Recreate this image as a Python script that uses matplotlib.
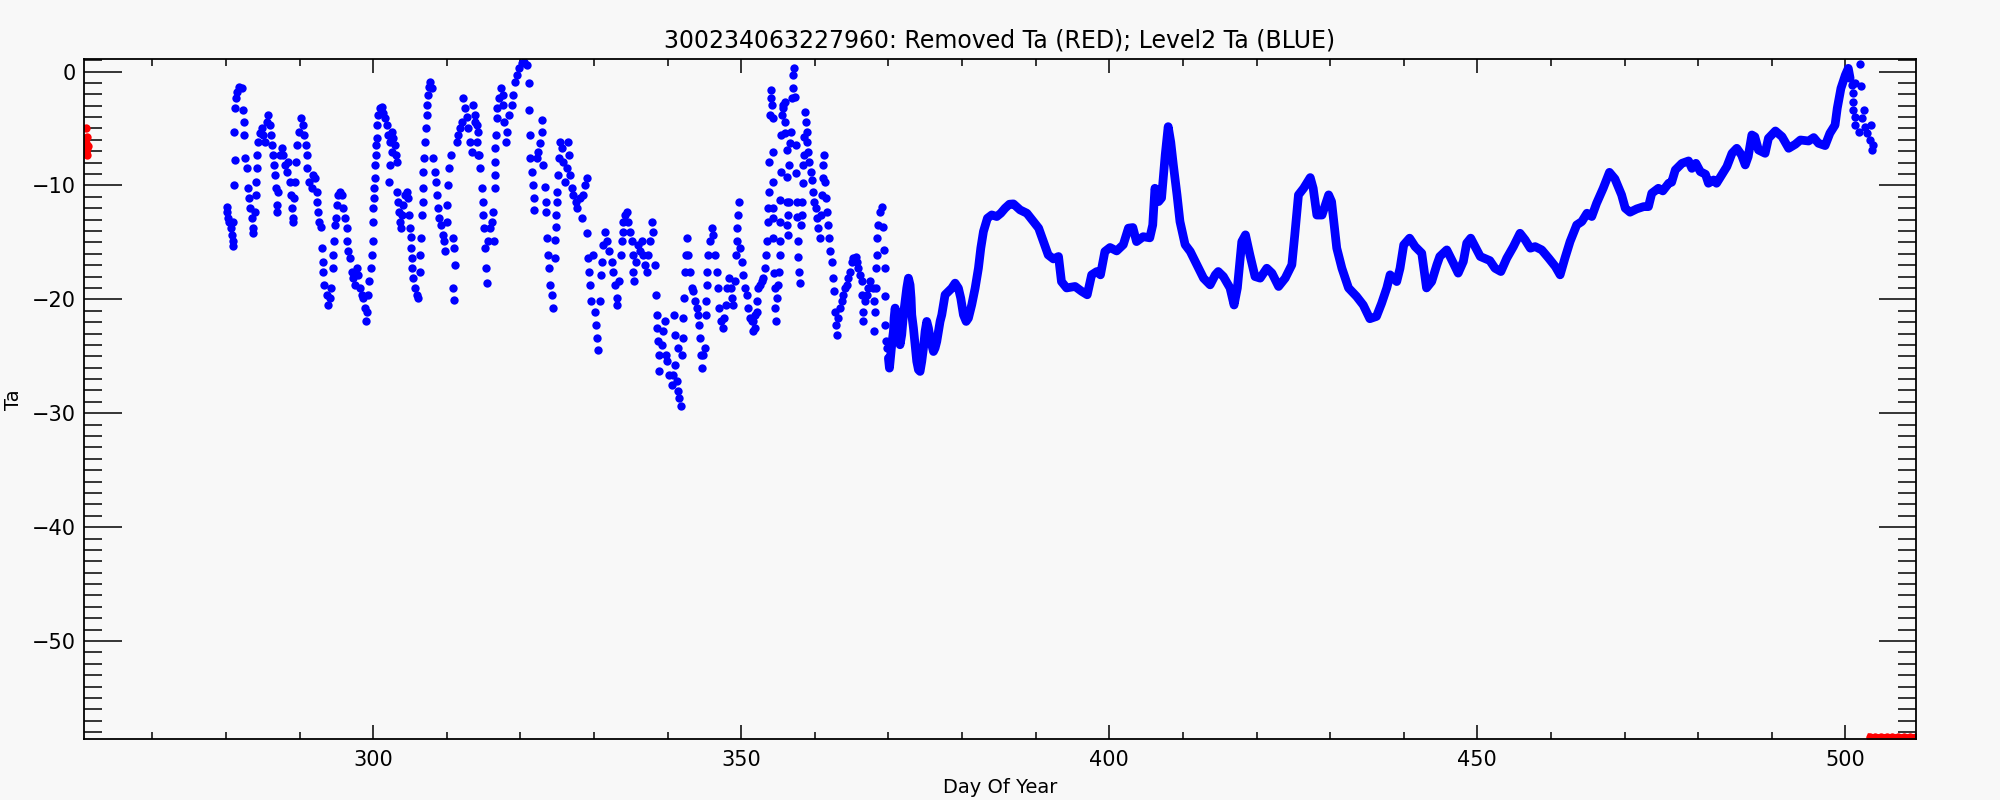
import numpy as np
import matplotlib
matplotlib.use("Agg")
from matplotlib import pyplot as plt
from matplotlib.ticker import MultipleLocator

# buoy id / labels
buoy_id = "300234063227960"
title_txt = buoy_id + ": Removed Ta (RED); Level2 Ta (BLUE)"
xlab = "Day Of Year"
ylab = "Ta"

# REMOVED Ta (red)
red_start = [(261.0, -4.93), (261.1, -5.72), (261.0, -6.3), (261.1, -6.74),
             (261.0, -7.04), (261.1, -7.32), (261.2, -6.5), (261.0, -7.1)]
red_end = [(503.4, -58.45), (503.7, -58.5), (504.0, -58.45), (504.4, -58.5),
           (504.8, -58.45), (505.2, -58.5), (505.6, -58.45), (506.0, -58.5),
           (506.4, -58.45), (506.8, -58.5), (507.2, -58.45), (507.6, -58.5),
           (508.0, -58.45), (508.4, -58.5), (508.8, -58.45), (509.2, -58.5),
           (509.6, -58.45)]

# LEVEL2 Ta (blue), days 280-314, noisy part
blue_a = [(280.08, -11.85), (280.17, -12.29), (280.31, -12.88), (280.45, -13.17), (280.63, -13.75),
          (280.76, -14.34), (280.9, -14.92), (280.9, -15.36), (280.99, -13.17), (281.13, -9.95),
          (281.22, -7.76), (281.13, -5.28), (281.22, -3.23), (281.35, -2.35), (281.53, -1.77),
          (281.8, -1.33), (282.12, -1.47), (282.35, -3.37), (282.44, -4.4), (282.44, -5.57),
          (282.58, -7.61), (282.8, -8.49), (283.03, -10.25), (283.16, -11.12), (283.26, -12.0),
          (283.48, -12.88), (283.62, -13.75), (283.71, -14.19), (283.93, -12.29), (284.07, -10.83),
          (284.07, -9.66), (284.16, -8.49), (284.25, -7.32), (284.39, -6.15), (284.61, -5.42),
          (284.84, -4.98), (285.07, -5.57), (285.29, -6.15), (285.52, -4.4), (285.75, -3.81),
          (285.97, -4.69), (286.06, -5.57), (286.2, -6.45), (286.43, -7.32), (286.52, -8.2),
          (286.65, -9.08), (286.79, -10.25), (286.88, -11.71), (286.97, -12.29), (287.11, -10.54),
          (287.33, -7.32), (287.56, -6.74), (287.79, -7.32), (288.01, -8.2), (288.24, -8.78),
          (288.46, -7.91), (288.69, -9.66), (288.78, -10.83), (288.92, -12.0), (289.05, -12.88),
          (289.14, -13.17), (289.28, -11.12), (289.37, -9.66), (289.51, -7.91), (289.69, -6.45),
          (289.96, -5.28), (290.14, -4.11), (290.41, -4.69), (290.59, -5.57), (290.87, -6.45),
          (290.96, -7.32), (291.05, -8.49), (291.32, -9.66), (291.64, -10.25), (291.86, -9.08),
          (292.09, -9.37), (292.32, -10.54), (292.41, -11.42), (292.54, -12.29), (292.68, -13.17),
          (292.86, -13.61), (293.0, -15.51), (293.13, -16.68), (293.22, -17.56), (293.31, -18.73),
          (293.67, -19.6), (293.9, -20.48), (294.13, -19.9), (294.22, -19.02), (294.49, -17.26),
          (294.58, -16.09), (294.67, -14.92), (294.81, -13.46), (294.94, -12.88), (295.03, -11.71),
          (295.26, -10.83), (295.49, -10.54), (295.71, -10.83), (295.94, -12.0), (296.17, -12.88),
          (296.39, -13.75), (296.48, -14.92), (296.62, -15.8), (296.85, -16.39), (297.07, -17.56),
          (297.3, -18.14), (297.52, -18.73), (297.75, -17.26), (297.98, -17.85), (298.2, -19.02),
          (298.43, -19.6), (298.66, -19.9), (298.88, -20.77), (298.97, -21.94), (299.11, -21.07),
          (299.34, -19.6), (299.47, -18.43), (299.65, -17.26), (299.79, -16.09), (299.93, -14.92),
          (300.02, -13.17), (300.02, -12.0), (300.11, -11.12), (300.15, -10.25), (300.24, -9.37),
          (300.29, -8.2), (300.38, -7.32), (300.38, -6.45), (300.47, -5.86), (300.56, -4.69),
          (300.7, -3.81), (300.92, -3.23), (301.15, -3.08), (301.38, -3.67), (301.6, -4.11),
          (301.83, -4.69), (302.05, -5.57), (302.28, -6.15), (302.51, -5.28), (302.73, -5.86),
          (302.96, -6.45), (303.1, -7.32), (303.19, -7.91), (302.28, -8.2), (302.19, -9.66),
          (302.51, -7.03), (303.28, -10.54), (303.41, -11.42), (303.55, -12.29), (303.64, -13.17),
          (303.73, -13.75), (303.87, -12.59), (304.09, -11.71), (304.32, -10.83), (304.55, -10.54),
          (304.77, -11.12), (304.91, -12.59), (305.0, -13.75), (305.09, -14.49), (305.09, -15.51),
          (305.23, -16.39), (305.32, -17.26), (305.45, -18.14), (305.68, -19.02), (305.91, -19.6),
          (306.13, -19.9), (306.36, -17.56), (306.36, -16.09), (306.45, -14.63), (306.58, -12.59),
          (306.72, -11.42), (306.81, -10.25), (306.72, -8.78), (306.9, -7.61), (307.04, -6.15),
          (307.17, -4.98), (307.26, -3.81), (307.35, -2.94), (307.45, -2.06), (307.54, -1.33),
          (307.72, -0.89), (307.94, -1.47), (308.17, -7.56), (308.4, -8.78), (308.53, -9.66),
          (308.71, -10.83), (308.85, -12.0), (308.99, -12.88), (309.17, -13.46), (309.44, -14.34),
          (309.62, -14.92), (309.76, -15.8), (309.98, -13.17), (310.07, -11.71), (310.21, -9.95),
          (310.34, -8.49), (310.53, -7.32), (310.8, -14.63), (310.98, -15.51), (311.11, -16.97),
          (310.89, -19.02), (310.98, -20.04), (311.34, -6.15), (311.57, -5.57), (311.79, -4.98),
          (312.02, -4.4), (312.25, -2.35), (312.47, -3.23), (312.7, -3.96), (312.93, -4.98),
          (313.15, -6.15), (313.38, -7.03), (313.61, -2.94), (313.83, -3.81), (314.06, -4.69),
          (314.28, -5.28), (314.42, -7.32)]

# days 313-352
blue_b = [(313.83, -4.4), (314.06, -6.15), (314.28, -7.32), (314.51, -8.49), (314.74, -10.25),
          (314.87, -11.42), (314.96, -12.59), (315.05, -13.75), (315.19, -15.51), (315.32, -17.26),
          (315.42, -18.58), (315.64, -14.92), (315.87, -13.75), (316.09, -13.17), (316.32, -12.29),
          (316.41, -14.92), (316.55, -10.25), (316.55, -9.08), (316.55, -7.91), (316.55, -6.74),
          (316.68, -5.57), (316.77, -4.11), (316.86, -3.23), (317.14, -2.35), (317.32, -1.47),
          (317.59, -2.06), (317.68, -2.94), (317.77, -4.4), (318.04, -6.15), (318.22, -5.28),
          (318.5, -3.81), (318.81, -2.94), (319.04, -2.06), (319.27, -0.89), (319.49, -0.3),
          (319.85, 0.28), (320.17, 0.72), (320.49, 0.87), (320.85, 0.57), (321.12, -1.04),
          (321.21, -3.37), (321.3, -5.57), (321.3, -7.61), (321.53, -8.78), (321.76, -9.95),
          (321.85, -11.12), (321.85, -12.15), (322.21, -7.61), (322.44, -7.03), (322.66, -6.3),
          (322.89, -5.28), (322.89, -4.25), (323.12, -8.2), (323.34, -10.1), (323.48, -11.42),
          (323.48, -12.29), (323.66, -14.63), (323.8, -16.09), (323.93, -17.26), (324.02, -18.73),
          (324.25, -19.6), (324.38, -20.77), (324.7, -16.39), (324.7, -14.78), (324.84, -13.61),
          (324.84, -12.59), (325.02, -11.42), (325.02, -10.54), (325.15, -9.08), (325.29, -7.61),
          (325.38, -6.15), (325.61, -6.74), (325.83, -7.91), (326.06, -9.66), (326.29, -8.49),
          (326.51, -6.15), (326.65, -7.32), (326.74, -9.08), (326.97, -10.25), (327.19, -10.83),
          (327.55, -11.42), (327.74, -12.0), (328.1, -11.12), (328.33, -12.88), (328.55, -10.83),
          (328.78, -9.95), (329.0, -9.37), (329.0, -14.19), (329.23, -16.39), (329.37, -17.56),
          (329.46, -18.73), (329.55, -20.19), (329.82, -16.09), (330.14, -21.07), (330.27, -22.24),
          (330.45, -23.4), (330.59, -24.43), (330.82, -20.19), (330.91, -17.85), (331.04, -16.68),
          (331.27, -15.22), (331.5, -14.05), (331.72, -14.92), (332.09, -15.8), (332.41, -16.68),
          (332.63, -17.56), (332.86, -18.73), (333.08, -19.9), (333.17, -20.48), (333.45, -18.43),
          (333.63, -16.09), (333.76, -14.92), (333.9, -14.05), (333.99, -13.17), (334.21, -12.59),
          (334.44, -12.29), (334.67, -13.17), (334.89, -14.05), (335.12, -14.92), (335.26, -16.09),
          (335.35, -17.56), (335.44, -18.43), (335.71, -16.68), (336.03, -15.22), (336.26, -15.8),
          (336.48, -14.92), (336.71, -16.09), (336.94, -16.97), (337.16, -17.56), (337.39, -16.09),
          (337.61, -14.92), (337.84, -13.17), (337.98, -14.05), (338.29, -16.97), (338.43, -19.6),
          (338.52, -21.36), (338.61, -22.53), (338.75, -23.7), (338.88, -24.87), (338.88, -26.33),
          (339.2, -23.99), (339.43, -22.82), (339.65, -21.94), (339.79, -24.87), (339.97, -25.45),
          (340.24, -26.62), (340.56, -27.5), (340.78, -26.62), (341.01, -25.74), (341.24, -27.2),
          (341.46, -28.08), (341.6, -28.67), (341.78, -29.4), (340.87, -21.36), (341.01, -23.11),
          (341.46, -24.28), (341.91, -24.87), (342.05, -23.4), (342.14, -21.65), (342.23, -19.9),
          (342.37, -17.56), (342.5, -16.09), (342.6, -14.63), (342.82, -16.09), (343.05, -17.56),
          (343.27, -19.02), (343.5, -19.31), (343.73, -20.19), (343.95, -20.77), (344.18, -21.36),
          (344.32, -22.24), (344.41, -23.4), (344.5, -24.87), (344.63, -26.04), (344.86, -24.87),
          (345.09, -24.28), (345.22, -21.36), (345.22, -20.19), (345.31, -18.73), (345.4, -17.56),
          (345.54, -16.09), (345.77, -14.92), (345.99, -13.75), (346.22, -14.34), (346.45, -16.09),
          (346.67, -17.56), (346.9, -19.02), (347.03, -20.77), (347.22, -21.94), (347.49, -22.53),
          (347.67, -21.65), (347.94, -20.48), (348.12, -19.02), (348.39, -18.14), (348.58, -19.02),
          (348.71, -19.9), (348.94, -20.48), (349.16, -18.43), (349.3, -16.09), (349.39, -14.92),
          (349.48, -13.75), (349.62, -12.59), (349.71, -11.42), (349.84, -15.51), (350.07, -16.68),
          (350.3, -17.85), (350.52, -19.02), (350.75, -19.6), (350.97, -20.77), (351.2, -21.65),
          (351.56, -21.94), (351.88, -22.53), (352.11, -21.07), (352.33, -19.02)]

# days 351-370
blue_c = [(351.42, -21.94), (351.64, -22.82), (351.87, -21.36), (352.1, -20.19), (352.55, -18.73),
          (352.78, -18.43), (353.0, -18.14), (353.23, -17.26), (353.36, -16.09), (353.55, -14.92),
          (353.68, -13.17), (353.68, -12.0), (353.82, -10.54), (353.82, -7.91), (353.91, -3.81),
          (354.0, -2.35), (354.0, -1.62), (354.13, -2.94), (354.27, -4.11), (354.27, -7.03),
          (354.27, -9.66), (354.27, -12.0), (354.36, -12.88), (354.36, -14.63), (354.45, -17.7),
          (354.59, -19.02), (354.59, -20.77), (354.72, -21.94), (354.81, -19.9), (355.04, -18.73),
          (355.18, -17.56), (355.27, -16.09), (355.27, -14.92), (355.27, -13.17), (355.27, -11.27),
          (355.36, -8.78), (355.36, -5.57), (355.49, -3.81), (355.63, -3.23), (355.72, -2.94),
          (355.95, -2.65), (355.95, -4.4), (355.95, -5.42), (356.17, -6.88), (356.17, -9.22),
          (356.26, -11.42), (356.26, -13.46), (356.4, -14.34), (356.4, -12.59), (356.53, -11.42),
          (356.53, -8.2), (356.63, -6.3), (356.72, -5.28), (356.85, -2.35), (356.99, -1.47),
          (357.08, -0.3), (357.17, 0.28), (357.31, -2.21), (357.44, -6.45), (357.44, -8.93),
          (357.53, -11.42), (357.62, -12.73), (357.76, -14.92), (357.76, -16.24), (357.9, -17.56),
          (357.99, -18.58), (358.08, -13.46), (358.21, -12.59), (358.21, -11.42), (358.35, -9.81),
          (358.44, -8.2), (358.53, -7.32), (358.53, -5.71), (358.66, -3.52), (358.8, -4.4),
          (358.89, -5.28), (358.98, -6.15), (359.12, -7.03), (359.25, -7.91), (359.43, -8.78),
          (359.57, -9.52), (359.8, -10.54), (359.89, -11.42), (360.16, -12.0), (360.25, -12.88),
          (360.48, -13.75), (360.7, -14.63), (360.79, -12.59), (360.93, -10.83), (361.06, -9.37),
          (361.16, -8.2), (361.25, -7.32), (361.38, -9.66), (361.52, -11.12), (361.61, -12.29),
          (361.84, -13.46), (361.97, -14.63), (362.06, -15.8), (362.29, -16.68), (362.52, -18.14),
          (362.6, -19.31), (362.74, -21.07), (362.88, -22.24), (363.06, -23.11), (363.19, -21.65),
          (363.42, -20.77), (363.65, -20.19), (363.87, -19.6), (364.1, -19.02), (364.33, -18.73),
          (364.55, -18.14), (364.78, -17.56), (365.01, -16.68), (365.23, -16.39), (365.6, -16.24),
          (365.78, -16.68), (365.91, -17.26), (366.14, -17.85), (366.37, -18.43), (366.37, -19.6),
          (366.5, -21.07), (366.59, -21.94), (366.82, -20.19), (367.05, -19.6), (367.27, -19.02),
          (367.5, -18.43), (367.86, -19.02), (368.04, -20.19), (368.18, -21.07), (368.04, -22.82),
          (368.31, -19.02), (368.31, -17.26), (368.4, -16.09), (368.49, -14.63), (368.63, -13.46),
          (368.86, -12.29), (369.08, -11.85), (369.31, -13.61), (369.4, -15.66), (369.54, -17.26),
          (369.54, -19.75), (369.54, -22.24), (369.67, -23.7), (369.85, -24.28)]

# days 370-500, continuous record
blue_line = [(369.99, -25.16), (370.13, -26.04), (370.31, -24.87), (370.44, -23.99), (370.67, -22.82),
             (370.76, -21.65), (370.9, -20.77), (371.12, -21.94), (371.35, -23.11), (371.57, -23.99),
             (371.8, -23.11), (372.03, -21.36), (372.25, -20.19), (372.48, -19.02), (372.71, -18.14),
             (372.93, -18.73), (373.07, -19.9), (373.16, -21.36), (373.39, -22.53), (373.61, -23.99),
             (373.84, -25.45), (374.07, -26.18), (374.29, -26.33), (374.52, -25.45), (374.75, -24.28),
             (374.97, -22.82), (375.2, -21.94), (375.43, -22.53), (375.65, -23.4), (375.88, -23.99),
             (376.11, -24.58), (376.33, -24.28), (376.56, -23.7), (376.78, -22.82), (377.01, -21.94),
             (377.24, -21.36), (377.46, -20.48), (377.69, -19.6), (378.14, -19.31), (378.6, -19.02),
             (379.05, -18.58), (379.5, -19.02), (379.82, -19.9), (380.18, -21.36), (380.55, -21.94),
             (380.86, -21.65), (381.31, -20.48), (381.77, -19.02), (382.22, -17.26), (382.54, -15.51),
             (382.9, -14.05), (383.44, -12.88), (384.03, -12.59), (384.71, -12.73), (385.26, -12.44),
             (385.84, -12.0), (386.43, -11.65), (386.97, -11.62), (387.88, -12.15), (388.8, -12.44),
             (389.7, -13.17), (390.4, -13.75), (391.05, -14.93), (391.7, -16.1), (392.4, -16.45),
             (393.1, -16.24), (393.5, -18.44), (394.2, -19.0), (395.35, -18.87), (396.25, -19.3),
             (397.0, -19.6), (397.6, -17.85), (398.3, -17.56), (398.8, -17.85), (399.4, -15.8),
             (400.1, -15.45), (401.0, -15.75), (401.9, -15.2), (402.6, -13.75), (403.2, -13.7),
             (403.7, -14.93), (404.6, -14.5), (405.5, -14.6), (405.9, -13.47), (406.2, -10.25),
             (406.7, -11.42), (407.1, -11.1), (407.6, -7.3), (408.0, -4.84), (408.35, -6.2),
             (408.7, -8.2), (409.2, -10.83), (409.6, -13.17), (410.3, -15.2), (411.0, -15.8),
             (411.9, -16.97), (412.8, -18.14), (413.7, -18.73), (414.4, -17.85), (414.8, -17.56),
             (415.5, -18.0), (416.4, -19.0), (416.95, -20.5), (417.4, -19.0), (418.0, -14.93),
             (418.5, -14.34), (419.1, -16.1), (419.8, -18.0), (420.5, -18.14), (421.4, -17.27),
             (422.1, -17.7), (423.0, -18.87), (423.9, -18.14), (424.8, -16.97), (425.2, -14.34),
             (425.7, -10.83), (426.4, -10.25), (427.3, -9.31), (427.7, -10.25), (428.2, -12.6),
             (428.9, -12.6), (429.8, -10.83), (430.2, -11.42), (430.9, -15.5), (431.6, -17.27),
             (432.5, -19.0), (433.6, -19.75), (434.5, -20.5), (435.4, -21.7), (436.3, -21.5),
             (437.0, -20.34), (437.7, -19.0), (438.15, -17.85), (439.05, -18.44), (439.5, -17.27),
             (440.0, -15.22), (440.8, -14.63), (441.55, -15.37), (442.45, -15.95), (443.1, -19.0),
             (443.8, -18.44), (444.5, -16.97), (444.9, -16.24), (445.85, -15.66), (446.75, -16.83),
             (447.4, -17.7), (448.1, -16.68), (448.56, -15.07), (449.1, -14.63), (449.7, -15.37),
             (450.4, -16.24), (451.7, -16.6), (452.4, -17.27), (453.2, -17.56), (454.0, -16.39),
             (454.9, -15.37), (455.8, -14.2), (456.5, -14.78), (457.2, -15.51), (457.85, -15.37),
             (458.75, -15.66), (459.7, -16.39), (460.6, -17.12), (461.25, -17.85), (461.9, -16.39),
             (462.6, -14.93), (463.5, -13.47), (464.2, -13.17), (464.9, -12.44), (465.55, -12.73),
             (466.2, -11.57), (467.1, -10.25), (467.95, -8.85), (468.7, -9.43), (469.6, -10.83),
             (470.1, -12.0), (470.75, -12.35), (471.66, -12.06), (472.6, -11.86), (473.25, -11.86),
             (473.7, -10.69), (474.6, -10.25), (475.2, -10.48), (476.0, -9.81), (476.4, -9.72),
             (476.9, -8.64), (477.8, -8.06), (478.7, -7.85), (479.15, -8.5), (479.7, -8.06),
             (480.3, -8.79), (481.0, -9.02), (481.4, -9.81), (482.1, -9.52), (482.5, -9.81),
             (483.2, -9.08), (483.9, -8.35), (484.6, -7.18), (485.25, -6.74), (485.9, -7.33),
             (486.4, -8.2), (486.8, -7.47), (487.3, -5.57), (487.7, -5.72), (488.2, -6.89),
             (489.1, -7.18), (489.55, -5.86), (490.5, -5.22), (491.4, -5.72), (492.3, -6.74),
             (493.2, -6.39), (493.9, -6.01), (495.0, -6.1), (495.7, -5.8), (496.35, -6.3),
             (497.25, -6.5), (497.9, -5.42), (498.6, -4.7), (498.9, -3.23), (499.4, -1.48),
             (500.0, -0.31), (500.4, 0.28), (500.65, -0.6)]

# days 500.7-504, noisy tail
blue_tail = [(502.0, 0.63), (500.9, -1.2), (501.3, -1.04), (502.1, -1.24), (501.0, -1.92),
             (501.1, -2.65), (501.1, -3.38), (501.3, -3.96), (502.5, -3.38), (502.2, -4.1),
             (501.3, -4.7), (501.8, -5.28), (502.7, -4.84), (503.5, -4.7), (502.9, -5.42),
             (503.4, -6.0), (503.7, -6.45), (503.6, -6.89)]

BG = "#f8f8f8"
fig = plt.figure(figsize=(20, 8), dpi=100, facecolor=BG)
ax = fig.add_axes([0.042, 0.07625, 0.916, 0.85])
ax.set_facecolor(BG)

ms = 6.0
for seg in [blue_a, blue_b, blue_c, blue_tail]:
    d, t = np.array(seg).T
    ax.plot(d, t, 'o', color='blue', ms=ms, mew=0)

d, t = np.array(blue_line).T
ax.plot(d, t, '-', color='blue', lw=6.3, solid_capstyle='round', solid_joinstyle='round')

d, t = np.array(red_start).T
ax.plot(d, t, 'o', color='red', ms=ms, mew=0)
d, t = np.array(red_end).T
ax.plot(d, t, 'o-', color='red', ms=ms, lw=5, mew=0)

ax.set_xlim(260.7, 509.6)
ax.set_ylim(-58.6, 1.1)

ax.xaxis.set_major_locator(MultipleLocator(50))
ax.xaxis.set_minor_locator(MultipleLocator(10))
ax.yaxis.set_major_locator(MultipleLocator(10))
ax.yaxis.set_minor_locator(MultipleLocator(1))
ax.tick_params(which='both', direction='in', top=True, right=True, width=1.1, colors='black',
               labelsize=15, pad=8)
ax.tick_params(axis='x', which='major', length=10)
ax.tick_params(axis='x', which='minor', length=5)
ax.tick_params(axis='y', which='major', length=27)
ax.tick_params(axis='y', which='minor', length=13)
ax.tick_params(axis='y', which='major', pad=6)
for s in ax.spines.values():
    s.set_linewidth(1.3)

ax.set_title(title_txt, fontsize=17, pad=8)
ax.set_xlabel(xlab, fontsize=14, labelpad=6)
# y label sits right at the left edge of the figure
fig.text(0.0068, 0.5, ylab, rotation=90, ha='center', va='center', fontsize=14)

fig.savefig("out.png", dpi=100, facecolor=BG)
